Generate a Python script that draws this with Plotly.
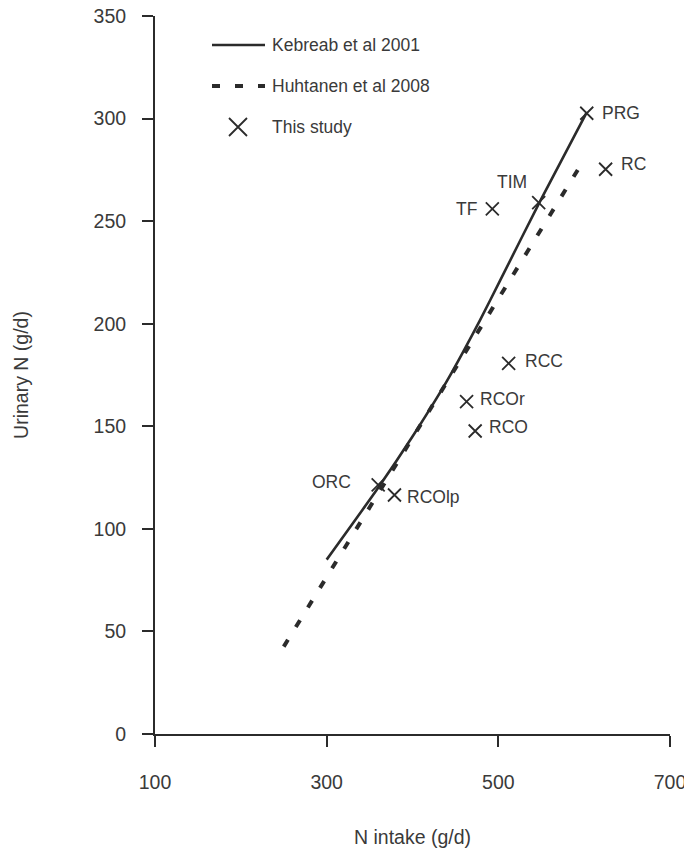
import plotly.graph_objects as go

# ---- data ----
kebreab_x = [300, 360, 400, 440, 479, 502, 549, 603]
kebreab_y = [85, 120, 145, 172, 202, 221, 260, 303]

huhtanen_x = [250, 600]
huhtanen_y = [42.6, 280]

study_labels = ["PRG", "RC", "TIM", "TF", "RCC", "RCOr", "RCO", "ORC", "RCOlp"]
study_x = [603, 625, 547, 493, 512, 463, 473, 360, 379]
study_y = [302.6, 275.3, 259, 256, 180.7, 162, 147.7, 121.4, 116.5]

legend_names = ["Kebreab et al 2001", "Huhtanen et al 2008", "This study"]

x_ticks = [100, 300, 500, 700]
y_ticks = [0, 50, 100, 150, 200, 250, 300, 350]

# ---- style ----
INK = "#2b2b2b"
TXT = "#3a3a3a"
FONT = "Liberation Sans, Arial, sans-serif"
FS = 17.5
AXFS = 19.5

# label placement: (xanchor, xshift px, yshift px)
label_pos = {
    "PRG": ("left", 14, 0),
    "RC": ("left", 14, 5),
    "TIM": ("right", -11, 21),
    "TF": ("right", -14, 0),
    "RCC": ("left", 15, 2),
    "RCOr": ("left", 12, 3),
    "RCO": ("left", 13, 4),
    "ORC": ("right", -26, 3),
    "RCOlp": ("left", 12, -2),
}

W, H = 684, 856
L, R, T, B = 155, 14, 16, 122
PW, PH = W - L - R, H - T - B


def px_to_paper(px, py):
    return (px - L) / PW, (H - B - py) / PH


fig = go.Figure()

fig.add_trace(go.Scatter(
    x=kebreab_x, y=kebreab_y, mode="lines", name=legend_names[0],
    line=dict(color=INK, width=2.6, shape="spline", smoothing=0.5),
    showlegend=False,
))
fig.add_trace(go.Scatter(
    x=huhtanen_x, y=huhtanen_y, mode="lines", name=legend_names[1],
    line=dict(color=INK, width=4, dash="8px,15px"),
    showlegend=False,
))
fig.add_trace(go.Scatter(
    x=study_x, y=study_y, mode="markers", name=legend_names[2],
    marker=dict(symbol="x-thin", size=13, line=dict(color=INK, width=1.8)),
    showlegend=False,
))

annotations = []
for lab, xv, yv in zip(study_labels, study_x, study_y):
    anc, xs, ys = label_pos[lab]
    annotations.append(dict(
        x=xv, y=yv, xref="x", yref="y", text=lab, showarrow=False,
        xanchor=anc, yanchor="middle", xshift=xs, yshift=ys, borderpad=0,
        font=dict(family=FONT, size=FS, color=TXT),
    ))

# manual legend (pixel-positioned, converted to paper coords)
shapes = []
lx0, lx1 = 212, 265
rows = [45, 86, 127]
x0p, y0p = px_to_paper(lx0, rows[0])
x1p, _ = px_to_paper(lx1, rows[0])
shapes.append(dict(type="line", xref="paper", yref="paper", x0=x0p, x1=x1p, y0=y0p, y1=y0p,
                   line=dict(color=INK, width=2.6)))
_, y1p = px_to_paper(lx0, rows[1])
shapes.append(dict(type="line", xref="paper", yref="paper", x0=x0p, x1=x1p, y0=y1p, y1=y1p,
                   line=dict(color=INK, width=4, dash="8px,15px")))
mxp, y2p = px_to_paper(238, rows[2])
shapes.append(dict(type="path", xref="paper", yref="paper", xsizemode="pixel", ysizemode="pixel",
                   xanchor=mxp, yanchor=y2p, path="M-9,-9 L9,9 M-9,9 L9,-9",
                   line=dict(color=INK, width=1.8)))
tx, _ = px_to_paper(271, 0)
for name, ry in zip(legend_names, rows):
    _, yp = px_to_paper(0, ry)
    annotations.append(dict(
        x=tx, y=yp, xref="paper", yref="paper", text=name, showarrow=False,
        xanchor="left", yanchor="middle", borderpad=0,
        font=dict(family=FONT, size=FS, color=TXT),
    ))

axis_common = dict(
    showline=True, linecolor=INK, linewidth=2,
    ticks="outside", ticklen=11, tickwidth=2, tickcolor=INK,
    showgrid=False, zeroline=False,
    tickfont=dict(family=FONT, size=AXFS, color=TXT),
    automargin=False,
)

fig.update_layout(
    width=W, height=H,
    margin=dict(l=L, r=R, t=T, b=B),
    paper_bgcolor="white", plot_bgcolor="white",
    font=dict(family=FONT, size=FS, color=TXT),
    showlegend=False,
    xaxis=dict(
        range=[100, 700], tickvals=x_ticks, ticktext=[str(v) for v in x_ticks],
        ticklabelstandoff=19, ticklabeloverflow="allow",
        title=dict(text="N intake (g/d)", font=dict(family=FONT, size=AXFS, color=TXT), standoff=38),
        **axis_common,
    ),
    yaxis=dict(
        range=[0, 350], tickvals=y_ticks, ticktext=[str(v) for v in y_ticks],
        ticklabelstandoff=12,
        title=dict(text="Urinary N (g/d)", font=dict(family=FONT, size=AXFS, color=TXT), standoff=60),
        **axis_common,
    ),
    annotations=annotations,
    shapes=shapes,
)

fig.write_html(
    "out.html",
    config={"displayModeBar": False},
    post_script="document.body.style.margin='0';document.body.style.overflow='hidden';",
)
